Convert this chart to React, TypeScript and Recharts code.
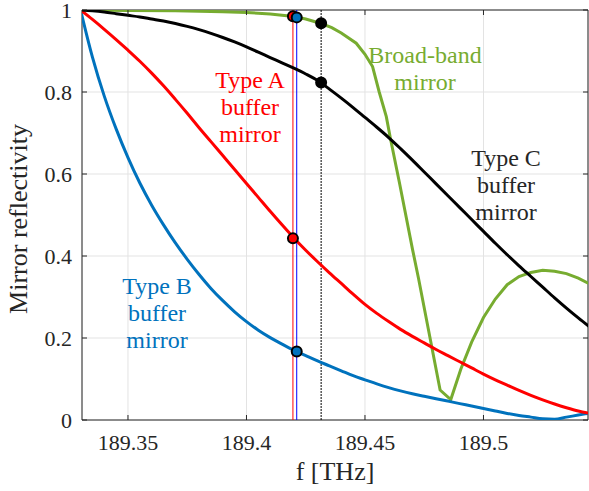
import React from 'react';
import {
  ComposedChart, Line, Scatter, XAxis, YAxis, CartesianGrid,
  ReferenceLine, ReferenceArea,
} from 'recharts';

// frequency grid shared by the three buffer-mirror curves [THz]
const F_GRID = [
  189.330, 189.335, 189.340, 189.345, 189.350, 189.355, 189.360, 189.365, 189.370, 189.375,
  189.380, 189.385, 189.390, 189.395, 189.400, 189.405, 189.410, 189.415, 189.420, 189.425,
  189.430, 189.435, 189.440, 189.445, 189.450, 189.455, 189.460, 189.465, 189.470, 189.475,
  189.480, 189.485, 189.490, 189.495, 189.500, 189.505, 189.510, 189.515, 189.520, 189.525,
  189.530, 189.535, 189.540, 189.545,
];

const TYPE_A_R = [
  1.0, 0.977, 0.953, 0.928, 0.902, 0.875, 0.846, 0.815, 0.782, 0.748,
  0.713, 0.679, 0.645, 0.611, 0.577, 0.543, 0.509, 0.476, 0.444, 0.414,
  0.386, 0.359, 0.333, 0.307, 0.282, 0.26, 0.24, 0.221, 0.204, 0.188,
  0.172, 0.157, 0.142, 0.127, 0.112, 0.098, 0.085, 0.072, 0.06, 0.049,
  0.039, 0.03, 0.022, 0.016,
];

const TYPE_B_R = [
  1.0, 0.885, 0.79, 0.71, 0.64, 0.578, 0.524, 0.476, 0.432, 0.392,
  0.355, 0.321, 0.291, 0.264, 0.24, 0.219, 0.201, 0.185, 0.17, 0.157,
  0.144, 0.132, 0.12, 0.108, 0.098, 0.088, 0.079, 0.071, 0.064, 0.058,
  0.052, 0.046, 0.04, 0.034, 0.028, 0.022, 0.016, 0.011, 0.007, 0.003,
  0.002, 0.007, 0.012, 0.017,
];

const TYPE_C_R = [
  1.0, 0.998, 0.995, 0.991, 0.987, 0.983, 0.978, 0.973, 0.967, 0.96,
  0.952, 0.943, 0.933, 0.922, 0.91, 0.897, 0.884, 0.871, 0.858, 0.844,
  0.828, 0.807, 0.785, 0.762, 0.738, 0.714, 0.689, 0.662, 0.634, 0.605,
  0.576, 0.547, 0.518, 0.489, 0.46, 0.431, 0.403, 0.376, 0.35, 0.324,
  0.298, 0.273, 0.249, 0.226,
];

// broad-band mirror is sampled more coarsely around the dip
const BROAD_F = [
  189.330, 189.350, 189.370, 189.390, 189.400, 189.410, 189.420, 189.425, 189.4315, 189.436,
  189.440, 189.4463, 189.450, 189.4532, 189.456, 189.459, 189.4607, 189.4645, 189.4701, 189.4726,
  189.4817, 189.4862, 189.4905, 189.495, 189.500, 189.505, 189.510, 189.515, 189.520, 189.525,
  189.530, 189.535, 189.540, 189.545,
];
const BROAD_R = [
  1.0, 0.999, 0.998, 0.996, 0.994, 0.99, 0.984, 0.978, 0.967, 0.957,
  0.944, 0.919, 0.892, 0.862, 0.80, 0.74, 0.688, 0.58, 0.415, 0.345,
  0.073, 0.05, 0.125, 0.19, 0.25, 0.295, 0.33, 0.35, 0.36, 0.365,
  0.363, 0.357, 0.346, 0.331,
];

// operating points (vertical lines + markers)
const MARK_A_F = 189.4196;
const MARK_A_R = [0.985, 0.443];
const MARK_B_F = 189.4212;
const MARK_B_R = [0.982, 0.167];
const MARK_C_F = 189.4315;
const MARK_C_R = [0.9675, 0.823];

const F_MIN = 189.3306;
const F_MAX = 189.5441;
const X_TICKS = [189.35, 189.4, 189.45, 189.5];
const X_TICK_LABELS = ['189.35', '189.4', '189.45', '189.5'];
const Y_TICKS = [0, 0.2, 0.4, 0.6, 0.8, 1];
const Y_TICK_LABELS = ['0', '0.2', '0.4', '0.6', '0.8', '1'];

const BLUE = '#0072BD';
const RED = '#FF0000';
const GREEN = '#77AC30';
const INK = '#262626';
const FONT = "'Liberation Serif', 'Times New Roman', 'DejaVu Serif', serif";

const W = 589;
const H = 491;
const MARGIN = { top: 10, right: 1, bottom: 0, left: 0 };
const Y_AXIS_W = 82;
const X_AXIS_H = 71;
const PLOT_RIGHT = W - MARGIN.right;

const toPoints = (fs: number[], rs: number[]) => fs.map((f, i) => ({ f, r: rs[i] }));

const seriesA = toPoints(F_GRID, TYPE_A_R);
const seriesB = toPoints(F_GRID, TYPE_B_R);
const seriesC = toPoints(F_GRID, TYPE_C_R);
const seriesBroad = toPoints(BROAD_F, BROAD_R);
const marksA = MARK_A_R.map(r => ({ f: MARK_A_F, r }));
const marksB = MARK_B_R.map(r => ({ f: MARK_B_F, r }));
const marksC = MARK_C_R.map(r => ({ f: MARK_C_F, r }));

const textStyle = (size: number, color: string) => ({ fontFamily: FONT, fontSize: size, fill: color });

const XTick = (props: any) => {
  const { x, y, index } = props;
  return (
    <g>
      <line x1={x} y1={y} x2={x} y2={y - 5} stroke={INK} />
      <line x1={x} y1={MARGIN.top} x2={x} y2={MARGIN.top + 5} stroke={INK} />
      <text x={x} y={y + 30} textAnchor="middle" fontFamily={FONT} style={textStyle(22, INK)}>
        {X_TICK_LABELS[index]}
      </text>
    </g>
  );
};

const YTick = (props: any) => {
  const { x, y, index } = props;
  return (
    <g>
      <line x1={x} y1={y} x2={x + 5} y2={y} stroke={INK} />
      <line x1={PLOT_RIGHT} y1={y} x2={PLOT_RIGHT - 5} y2={y} stroke={INK} />
      <text x={x - 10} y={y + 7.5} textAnchor="end" fontFamily={FONT} style={textStyle(22, INK)}>
        {Y_TICK_LABELS[index]}
      </text>
    </g>
  );
};

const YTitle = (props: any) => {
  const { viewBox } = props;
  const cx = 27;
  const cy = viewBox.y + viewBox.height / 2 + 4;
  return (
    <text x={cx} y={cy} transform={`rotate(-90 ${cx} ${cy})`} textAnchor="middle" style={textStyle(26, INK)}>
      Mirror reflectivity
    </text>
  );
};

const XTitle = (props: any) => {
  const { viewBox } = props;
  return (
    <text x={viewBox.x + viewBox.width / 2} y={viewBox.y + 60} textAnchor="middle" style={textStyle(26, INK)}>
      f [THz]
    </text>
  );
};

const dot = (fill: string) => (props: any) => (
  <circle cx={props.cx} cy={props.cy} r={5} fill={fill} stroke="#000" strokeWidth={2} />
);

const NOTES = [
  { lines: ['Type A', 'buffer', 'mirror'], x: 250, y: 88, color: RED },
  { lines: ['Broad-band', 'mirror'], x: 425, y: 63, color: GREEN },
  { lines: ['Type C', 'buffer', 'mirror'], x: 506, y: 166, color: INK },
  { lines: ['Type B', 'buffer', 'mirror'], x: 157, y: 294, color: BLUE },
];

export default function App() {
  return (
    <div style={{ position: 'absolute', left: 0, top: 0, width: W, height: H, background: '#fff', fontFamily: FONT }}>
      <ComposedChart width={W} height={H} margin={MARGIN}>
        <CartesianGrid stroke="#e3e3e3" />
        <XAxis
          dataKey="f" type="number" domain={[F_MIN, F_MAX]} allowDataOverflow
          ticks={X_TICKS} interval={0} height={X_AXIS_H}
          tickSize={0} tickMargin={0} axisLine={false} tickLine={false}
          tick={<XTick />} label={{ content: <XTitle /> }}
        />
        <YAxis
          type="number" domain={[0, 1]} allowDataOverflow
          ticks={Y_TICKS} interval={0} width={Y_AXIS_W}
          tickSize={0} tickMargin={0} axisLine={false} tickLine={false}
          tick={<YTick />} label={{ content: <YTitle /> }}
        />
        <ReferenceArea x1={F_MIN} x2={F_MAX} y1={0} y2={1} fill="none" stroke={INK} strokeWidth={1} />
        <ReferenceLine x={MARK_A_F} stroke={RED} strokeWidth={1} />
        <ReferenceLine x={MARK_B_F} stroke="#0000FF" strokeWidth={1} />
        <ReferenceLine x={MARK_C_F} stroke="#000" strokeWidth={1} strokeDasharray="2 1" />
        <Line data={seriesBroad} dataKey="r" type="linear" stroke={GREEN} strokeWidth={3} dot={false} isAnimationActive={false} />
        <Line data={seriesB} dataKey="r" type="monotone" stroke={BLUE} strokeWidth={3} dot={false} isAnimationActive={false} />
        <Line data={seriesA} dataKey="r" type="monotone" stroke={RED} strokeWidth={3} dot={false} isAnimationActive={false} />
        <Line data={seriesC} dataKey="r" type="monotone" stroke="#000" strokeWidth={3} dot={false} isAnimationActive={false} />
        <Scatter data={marksA} dataKey="r" shape={dot(RED)} isAnimationActive={false} />
        <Scatter data={marksB} dataKey="r" shape={dot(BLUE)} isAnimationActive={false} />
        <Scatter data={marksC} dataKey="r" shape={dot('#000')} isAnimationActive={false} />
      </ComposedChart>
      <svg width={W} height={H} style={{ position: 'absolute', left: 0, top: 0, pointerEvents: 'none' }}>
        {NOTES.map(n => (
          <text key={n.lines[0]} x={n.x} y={n.y} textAnchor="middle" fontFamily={FONT} style={textStyle(24, n.color)}>
            {n.lines.map((l, i) => (
              <tspan key={i} x={n.x} dy={i === 0 ? 0 : 27}>{l}</tspan>
            ))}
          </text>
        ))}
      </svg>
    </div>
  );
}
